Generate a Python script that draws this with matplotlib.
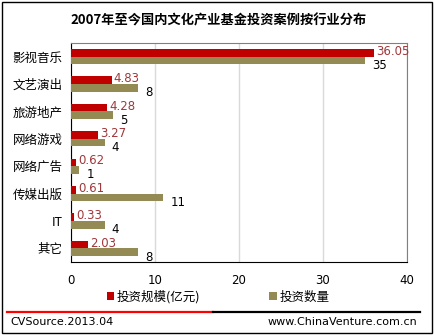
import matplotlib
matplotlib.use("Agg")
import matplotlib.pyplot as plt
from matplotlib.lines import Line2D
from matplotlib.patches import Rectangle
import numpy as np

plt.rcParams['font.family'] = ['Noto Sans CJK SC', 'DejaVu Sans']

categories = ['影视音乐', '文艺演出', '旅游地产', '网络游戏', '网络广告', '传媒出版', 'IT', '其它']
scale = [36.05, 4.83, 4.28, 3.27, 0.62, 0.61, 0.33, 2.03]   # 投资规模(亿元)
count = [35, 8, 5, 4, 1, 11, 4, 8]                          # 投资数量
scale_labels = ['36.05', '4.83', '4.28', '3.27', '0.62', '0.61', '0.33', '2.03']
xticks = [0, 10, 20, 30, 40]

red = '#C00000'
olive = '#948A54'

W, H = 435, 335
fig = plt.figure(figsize=(W / 100, H / 100), dpi=100)
ax = fig.add_axes([71 / W, 1 - 262 / H, 336 / W, 219 / H])

y = np.arange(len(categories))
h = 0.28
ax.barh(y - 0.14, scale, height=h, color=red, label='投资规模(亿元)', zorder=3)
ax.barh(y + 0.14, count, height=h, color=olive, label='投资数量', zorder=3)

for i in range(len(categories)):
    ax.annotate(scale_labels[i], (scale[i], y[i] - 0.14), xytext=(1.5, 1),
                textcoords='offset points', ha='left', va='center',
                fontsize=8.5, color='#A0373A', family=['DejaVu Sans'])
    ax.annotate(str(count[i]), (count[i], y[i] + 0.14), xytext=(5, -3.5),
                textcoords='offset points', ha='left', va='center',
                fontsize=8.5, color='black', family=['DejaVu Sans'])

ax.set_xlim(0, 40)
ax.set_ylim(len(categories) - 0.5, -0.5)
ax.set_xticks(xticks)
ax.set_xticklabels([str(t) for t in xticks], fontsize=8.5, family=['DejaVu Sans'])
ax.set_yticks(y)
ax.set_yticklabels(categories, fontsize=9)
ax.tick_params(length=0, pad=6)
ax.tick_params(axis='x', pad=9)
ax.grid(axis='x', color='#D9D9D9', linewidth=1, zorder=0)
for s in ['top', 'right']:
    ax.spines[s].set_color('#808080')
ax.spines['left'].set_color('black')
ax.spines['bottom'].set_color('black')

fig.legend(loc='center', bbox_to_anchor=(218 / W, 1 - 297 / H), ncol=2,
           frameon=False, fontsize=9, handlelength=0.6, handleheight=0.6,
           handletextpad=0.2, columnspacing=5.5, borderpad=0)

fig.text(219 / W, 1 - 20 / H, '2007年至今国内文化产业基金投资案例按行业分布',
         ha='center', va='center', fontsize=9.5, fontweight='bold')

# footer
fig.add_artist(Line2D([7 / W, 213 / W], [1 - 312 / H] * 2, color='#FF0000', lw=1.6))
fig.add_artist(Line2D([213 / W, 420 / W], [1 - 312 / H] * 2, color='black', lw=1.6))
fig.text(10 / W, 1 - 322 / H, 'CVSource.2013.04', ha='left', va='center',
         fontsize=8, family=['DejaVu Sans'])
fig.text(417 / W, 1 - 322 / H, 'www.ChinaVenture.com.cn', ha='right', va='center',
         fontsize=8, family=['DejaVu Sans'])

fig.add_artist(Rectangle((2 / W, 2 / H), 430 / W, 331 / H, transform=fig.transFigure,
                         fill=False, edgecolor='black', lw=1))

fig.savefig('out.png', dpi=100)
